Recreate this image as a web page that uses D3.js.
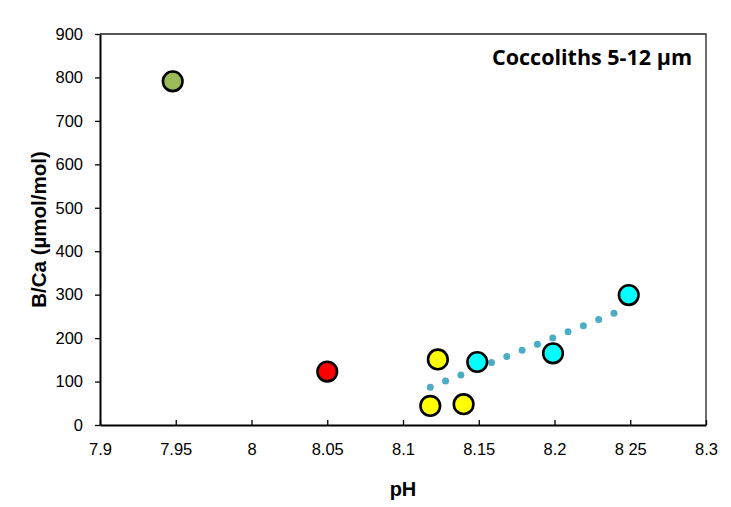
<!DOCTYPE html>
<html><head><meta charset="utf-8">
<script src="https://cdn.jsdelivr.net/npm/d3@7"></script>
<style>body{margin:0;background:#fff}svg{display:block}</style>
</head><body>
<svg id="c" width="731" height="507"></svg>
<script>
// ---- data ----
const xTicks = [7.9, 7.95, 8, 8.05, 8.1, 8.15, 8.2, 8.25, 8.3];
const xTickLabels = ["7.9","7.95","8","8.05","8.1","8.15","8.2","8 25","8.3"];
const yTicks = [0,100,200,300,400,500,600,700,800,900];
const pointPH   = [7.948, 8.050, 8.123, 8.118, 8.140, 8.149, 8.199, 8.249];
const pointBCa  = [791,   123,   151,   44,    48,    145,   165,   299];
const pointColor= ["#9bbb59","#ff0000","#ffff00","#ffff00","#ffff00","#00ffff","#00ffff","#00ffff"];
const trendPH  = [8.118, 8.240];
const trendBCa = [87, 258];
const title = "Coccoliths 5-12 µm";
const xTitle = "pH";
const yTitle = "B/Ca (µmol/mol)";

const svg = d3.select("#c");
const L = 100, R = 706, T = 34, B = 425;
const x = d3.scaleLinear().domain([7.9, 8.3]).range([L, R]);
const y = d3.scaleLinear().domain([0, 900]).range([B, T]);

// box top/right
svg.append("path").attr("d", `M${L},${T}H${R}V${B}`).attr("fill","none").attr("stroke","#222").attr("stroke-width",1.3);

// x axis (ticks inward)
const xa = svg.append("g").attr("transform",`translate(0,${B})`)
  .call(d3.axisBottom(x).tickValues(xTicks).tickSizeInner(-5).tickSizeOuter(0).tickFormat((d,i)=>xTickLabels[i]));
xa.select(".domain").attr("stroke","#000").attr("stroke-width",2);
xa.selectAll(".tick line").attr("stroke","#000").attr("stroke-width",1.3);
xa.selectAll(".tick text").attr("y",18).attr("font-family","Liberation Sans, Arial, sans-serif").attr("font-size",16.5).attr("fill","#000");

// y axis (ticks outward)
const ya = svg.append("g").attr("transform",`translate(${L},0)`)
  .call(d3.axisLeft(y).tickValues(yTicks).tickSize(5).tickSizeOuter(0).tickPadding(12));
ya.select(".domain").attr("stroke","#000").attr("stroke-width",2);
ya.selectAll(".tick line").attr("stroke","#000").attr("stroke-width",1.3);
ya.selectAll(".tick text").attr("font-family","Liberation Sans, Arial, sans-serif").attr("font-size",16.5).attr("fill","#000");

// trend line (round dots)
svg.append("line")
  .attr("x1", x(trendPH[0])).attr("y1", y(trendBCa[0]))
  .attr("x2", x(trendPH[1])).attr("y2", y(trendBCa[1]))
  .attr("stroke","#4bacc6").attr("stroke-width",7).attr("stroke-linecap","round")
  .attr("stroke-dasharray","0 16.5");

// points
svg.append("g").selectAll("circle").data(pointPH).join("circle")
  .attr("cx",(d)=>x(d)).attr("cy",(d,i)=>y(pointBCa[i])).attr("r",9.8)
  .attr("fill",(d,i)=>pointColor[i]).attr("stroke","#000").attr("stroke-width",2.6);

// titles
svg.append("text").attr("x",692).attr("y",65).attr("text-anchor","end")
  .attr("font-family","Open Sans, Noto Sans, sans-serif").attr("font-weight","bold").attr("font-size",21.5)
  .attr("fill","#000").text(title);
svg.append("text").attr("x",(L+R)/2).attr("y",496).attr("text-anchor","middle")
  .attr("font-family","Liberation Sans, Arial, sans-serif").attr("font-weight","bold").attr("font-size",20)
  .text(xTitle);
svg.append("text").attr("transform",`translate(46,${(T+B)/2}) rotate(-90)`).attr("text-anchor","middle")
  .attr("font-family","Liberation Sans, Arial, sans-serif").attr("font-weight","bold").attr("font-size",20.5)
  .text(yTitle);
</script>
</body></html>
